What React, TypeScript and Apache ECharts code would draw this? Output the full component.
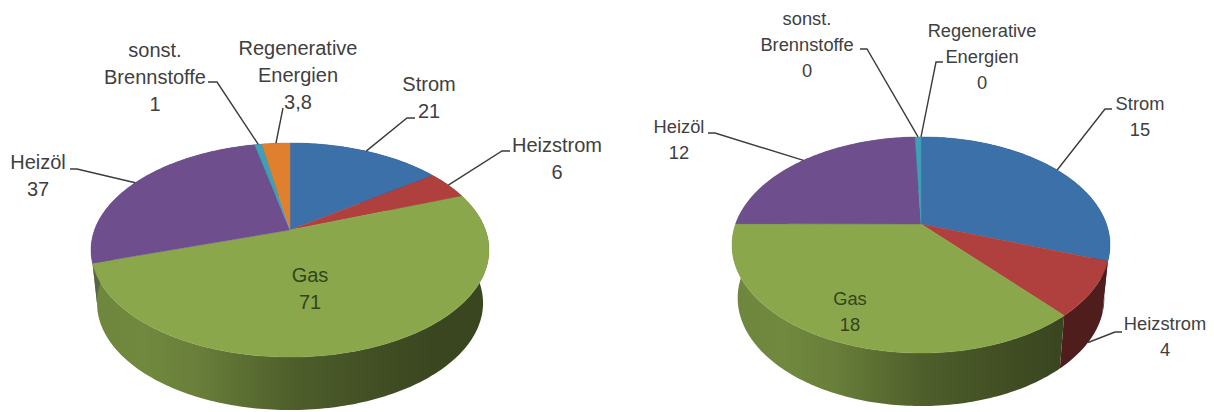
import React, { useEffect, useRef } from "react";
import * as echarts from "echarts";

// Slices run clockwise from twelve o'clock, in this order.
const categories = ["Strom", "Heizstrom", "Gas", "Heizöl", "sonst.\nBrennstoffe", "Regenerative\nEnergien"];
const leftValues = [21, 6, 71, 37, 1, 3.8];
const rightValues = [15, 4, 18, 12, 0.3, 0];

const sliceColors = ["#3b70a9", "#b0403d", "#8aa74c", "#6e4e8d", "#3e9fb5", "#e07f2d"];
const wallColors = ["#3b70a9", "#bb4543", "#8aa74c", "#6f7d52", "#3e9fb5", "#e07f2d"];
const wallStops: [number, number][] = [
  [0, 0.8], [0.12, 0.82], [0.26, 0.76], [0.5, 0.57], [0.67, 0.49], [0.87, 0.42], [1, 0.42],
];

type Pie = {
  values: number[];
  digits: number;
  cx: number;
  cy: number;
  rx: number;
  ry: number;
  k: number;
  depth: number;
  fontSize: number;
  lineHeight: number;
  // centre x / first-line centre y of each label
  labels: [number, number][];
  // leader start points beside the label, and the short horizontal elbow
  leaders: ([number, number, number] | null)[];
  // leader that lands on the lower rim rather than the top rim
  lowerRim: number[];
};

const leftPie: Pie = {
  values: leftValues, digits: 1,
  cx: 290, cy: 230, rx: 195.5, ry: 103.3, k: 0.187, depth: 53,
  fontSize: 20, lineHeight: 27,
  labels: [[429, 84], [557, 145], [310, 275], [38, 162], [155, 50], [298, 48]],
  leaders: [[415, 407, 118], [510, 502, 151], null, [70, 77, 169], [208, 217, 82], [283, 283, 108]],
  lowerRim: [],
};

const rightPie: Pie = {
  values: rightValues, digits: 0,
  cx: 921, cy: 224, rx: 185.4, ry: 104, k: 0.194, depth: 53,
  fontSize: 18.3, lineHeight: 26,
  labels: [[1140, 103], [1165, 323], [850, 298], [679, 126], [807, 18], [982, 30]],
  leaders: [[1112, 1105, 109], [1122, 1115, 332], null, [708, 715, 133], [860, 867, 49], [943, 936, 62]],
  lowerRim: [1],
};

const TEXT = "#404040";
const FONT = '"Liberation Sans", Arial, sans-serif';

function total(values: number[]) {
  return values.reduce((a, b) => a + b, 0);
}

// Perspective projection of a point on the disc's rim (theta clockwise from the top).
function rim(p: Pie, theta: number, lower = false): [number, number] {
  const u = Math.sin(theta);
  const v = -Math.cos(theta);
  const w = 1 - p.k * v;
  const sx = lower ? 0.97 : 1;
  return [
    p.cx + (sx * p.rx * u) / w,
    p.cy + (lower ? p.depth : 0) + (p.ry * v) / w,
  ];
}

function sliceAngles(p: Pie, index: number): [number, number] {
  const sum = total(p.values);
  let before = 0;
  for (let i = 0; i < index; i++) before += p.values[i];
  return [(before / sum) * Math.PI * 2, ((before + p.values[index]) / sum) * Math.PI * 2];
}

function arcPoints(p: Pie, a0: number, a1: number, lower = false) {
  const steps = Math.max(2, Math.ceil(((a1 - a0) * 180) / Math.PI));
  const pts: [number, number][] = [];
  for (let i = 0; i <= steps; i++) pts.push(rim(p, a0 + ((a1 - a0) * i) / steps, lower));
  return pts;
}

function shade(hex: string, f: number) {
  const n = parseInt(hex.slice(1), 16);
  const c = [(n >> 16) & 255, (n >> 8) & 255, n & 255].map((x) => Math.round(x * f));
  return `rgb(${c[0]},${c[1]},${c[2]})`;
}

function wallSeries(p: Pie) {
  return {
    type: "custom",
    coordinateSystem: "none",
    z: 1,
    silent: true,
    data: p.values.map((v) => [v]),
    renderItem: (params: any) => {
      const i = params.dataIndex;
      if (p.values[i] <= 0) return { type: "group", children: [] };
      const [a0, a1] = sliceAngles(p, i);
      const top = arcPoints(p, a0, a1);
      const bottom = arcPoints(p, a0, a1, true).reverse();
      const fill = new echarts.graphic.LinearGradient(
        p.cx - p.rx, 0, p.cx + p.rx, 0,
        wallStops.map(([offset, f]) => ({ offset, color: shade(wallColors[i], f) })),
        true
      );
      return { type: "polygon", shape: { points: [...top, ...bottom] }, style: { fill } };
    },
  };
}

function topSeries(p: Pie) {
  return {
    type: "custom",
    coordinateSystem: "none",
    z: 2,
    silent: true,
    data: p.values.map((v) => [v]),
    renderItem: (params: any) => {
      const i = params.dataIndex;
      if (p.values[i] <= 0) return { type: "group", children: [] };
      const [a0, a1] = sliceAngles(p, i);
      return {
        type: "polygon",
        shape: { points: [[p.cx, p.cy], ...arcPoints(p, a0, a1)] },
        style: { fill: sliceColors[i], stroke: sliceColors[i], lineWidth: 0.4 },
      };
    },
  };
}

function formatValue(v: number, digits: number) {
  const m = Math.pow(10, digits);
  return String(Math.round(v * m) / m).replace(".", ",");
}

function annotations(p: Pie) {
  const out: any[] = [];
  categories.forEach((name, i) => {
    const lines = [...name.split("\n"), formatValue(p.values[i], p.digits)];
    const [lx, ly] = p.labels[i];
    const inside = i === 2;
    lines.forEach((line, n) => {
      out.push({
        type: "text",
        z: 10,
        silent: true,
        style: {
          text: line,
          x: lx,
          y: ly + n * p.lineHeight,
          align: "center",
          verticalAlign: "middle",
          font: `${p.fontSize}px ${FONT}`,
          fill: inside ? "#34441b" : TEXT,
        },
      });
    });
    const leader = p.leaders[i];
    if (leader) {
      const [a0, a1] = sliceAngles(p, i);
      const end = rim(p, (a0 + a1) / 2, p.lowerRim.includes(i));
      out.push({
        type: "polyline",
        z: 9,
        silent: true,
        shape: { points: [[leader[0], leader[2]], [leader[1], leader[2]], end] },
        style: { stroke: "#3c3c3c", lineWidth: 1.4, fill: "none" },
      });
    }
  });
  return out;
}

export default function App() {
  const ref = useRef<HTMLDivElement>(null);
  useEffect(() => {
    const chart = echarts.init(ref.current!, undefined, { renderer: "svg" });
    chart.setOption({
      animation: false,
      backgroundColor: "#ffffff",
      series: [wallSeries(leftPie), topSeries(leftPie), wallSeries(rightPie), topSeries(rightPie)],
      graphic: { elements: [...annotations(leftPie), ...annotations(rightPie)] },
    });
    return () => chart.dispose();
  }, []);
  return <div ref={ref} style={{ position: "fixed", left: 0, top: 0, width: 1214, height: 412 }} />;
}
